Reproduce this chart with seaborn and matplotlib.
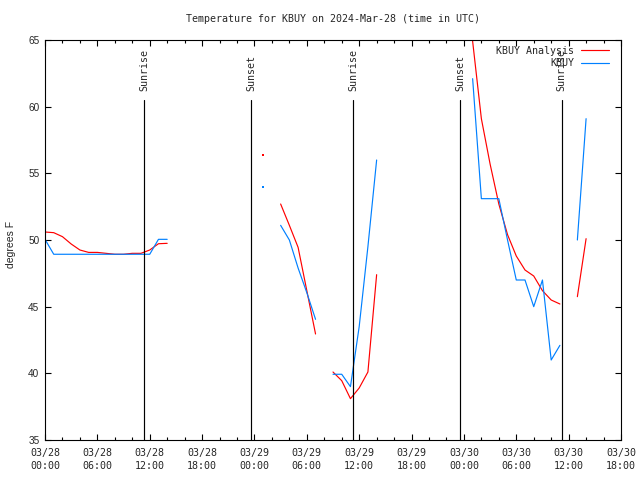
import pandas as pd
import seaborn as sns
import matplotlib
matplotlib.use('Agg')
import matplotlib.pyplot as plt
import matplotlib.dates as mdates
import matplotlib.transforms as mtransforms

# hours after 2024-03-28 00:00 UTC where each piece of a line starts (hourly values)
analysis_starts = [0, 27, 33, 48, 61]
analysis_temps = [
    [50.6, 50.55, 50.25, 49.7, 49.25, 49.07, 49.07, 49.0, 48.93, 48.93, 49.0, 49.0, 49.25, 49.72, 49.75],
    [52.7, 51.1, 49.45, 46.2, 42.95],
    [40.1, 39.45, 38.1, 38.9, 40.1, 47.4],
    [70.0, 64.9, 59.1, 55.7, 52.7, 50.4, 48.8, 47.75, 47.3, 46.2, 45.5, 45.2],
    [45.75, 50.1],
]
obs_starts = [0, 27, 33, 49, 61]
obs_temps = [
    [50.05, 48.93, 48.93, 48.93, 48.93, 48.93, 48.93, 48.93, 48.93, 48.93, 48.93, 48.93, 48.93, 50.05, 50.05],
    [51.1, 50.0, 47.9, 46.05, 44.05],
    [39.93, 39.93, 39.0, 43.5, 49.5, 56.0],
    [62.1, 53.1, 53.1, 53.1, 50.0, 47.0, 47.0, 45.0, 47.0, 41.0, 42.1],
    [50.0, 59.1],
]
# lone readings with no neighbour: (hour, temp)
analysis_lone = (25, 56.4)
obs_lone = (25, 54.0)

sun_times = ['2024-03-28 11:21', '2024-03-28 23:36', '2024-03-29 11:20',
             '2024-03-29 23:33', '2024-03-30 11:12']
sun_labels = ['Sunrise', 'Sunset', 'Sunrise', 'Sunset', 'Sunrise']

base = pd.Timestamp('2024-03-28 00:00')
colors = {'KBUY Analysis': '#ff0000', 'KBUY': '#0080ff'}
mono = 'DejaVu Sans Mono'


def build_frame():
    rows = []
    for name, starts, temps in [('KBUY Analysis', analysis_starts, analysis_temps),
                                ('KBUY', obs_starts, obs_temps)]:
        for i, (s, vals) in enumerate(zip(starts, temps)):
            for j, v in enumerate(vals):
                rows.append({'time': base + pd.Timedelta(hours=s + j), 'temp': v,
                             'series': name, 'segment': name + str(i)})
    return pd.DataFrame(rows)


def main():
    sns.set_style('ticks')
    plt.rcParams['font.family'] = [mono, 'DejaVu Sans']
    df = build_frame()

    fig = plt.figure(figsize=(6.4, 4.8), dpi=100)
    ax = fig.add_axes([45 / 640, 40 / 480, 576 / 640, 400 / 480])

    sns.lineplot(data=df, x='time', y='temp', hue='series', units='segment',
                 estimator=None, sort=False, palette=colors,
                 hue_order=['KBUY Analysis', 'KBUY'], lw=0.85, ax=ax)
    for name, (h, v) in [('KBUY Analysis', analysis_lone), ('KBUY', obs_lone)]:
        sns.scatterplot(x=[base + pd.Timedelta(hours=h)], y=[v], color=colors[name],
                        s=2, marker='s', linewidth=0, legend=False, ax=ax)

    # sunrise / sunset markers
    trans = mtransforms.blended_transform_factory(ax.transData, ax.transAxes)
    for t, lab in zip(pd.to_datetime(sun_times), sun_labels):
        ax.axvline(t, ymin=0, ymax=0.85, color='black', lw=0.85)
        ax.text(t, 0.872, lab, transform=trans, rotation=90, ha='center', va='bottom',
                fontsize=7.2, family=mono)

    ax.set_xlim(base, base + pd.Timedelta(hours=66))
    ax.set_ylim(35, 65)
    ax.set_yticks(range(35, 66, 5))
    ax.xaxis.set_major_locator(mdates.HourLocator(byhour=[0, 6, 12, 18]))
    ax.xaxis.set_minor_locator(mdates.HourLocator(interval=2))
    ax.xaxis.set_major_formatter(mdates.DateFormatter('%m/%d\n%H:%M'))
    ax.tick_params(which='both', direction='in', top=True, right=True, width=0.8, color='black')
    ax.tick_params(which='major', length=4.5)
    ax.tick_params(which='minor', length=2.2)
    ax.tick_params(axis='x', pad=6, labelsize=7.2)
    ax.tick_params(axis='y', pad=4, labelsize=7.2)
    for lab in ax.get_xticklabels():
        lab.set_linespacing(1.3)
    for lab in ax.get_yticklabels():
        lab.set_family('Liberation Sans')
    for sp in ax.spines.values():
        sp.set_color('black')
        sp.set_linewidth(0.8)
    ax.set_xlabel('')
    ax.set_ylabel('')
    fig.text(11 / 640, 0.49, 'degrees F', rotation=90, ha='center', va='center',
             fontsize=7.5, family='Liberation Sans')
    fig.text(333 / 640, 1 - 19.5 / 480, 'Temperature for KBUY on 2024-Mar-28 (time in UTC)',
             ha='center', va='center', fontsize=7.2, family=mono)

    leg = ax.legend(loc='upper right', bbox_to_anchor=(0.98, 0.985), frameon=False,
                    markerfirst=False, fontsize=7.2, handlelength=2.8, handletextpad=0.7,
                    borderpad=0, borderaxespad=0, labelspacing=0.25)
    for col in leg._legend_handle_box.get_children():
        col.align = 'right'

    fig.savefig('out.png', dpi=100)


if __name__ == '__main__':
    main()
